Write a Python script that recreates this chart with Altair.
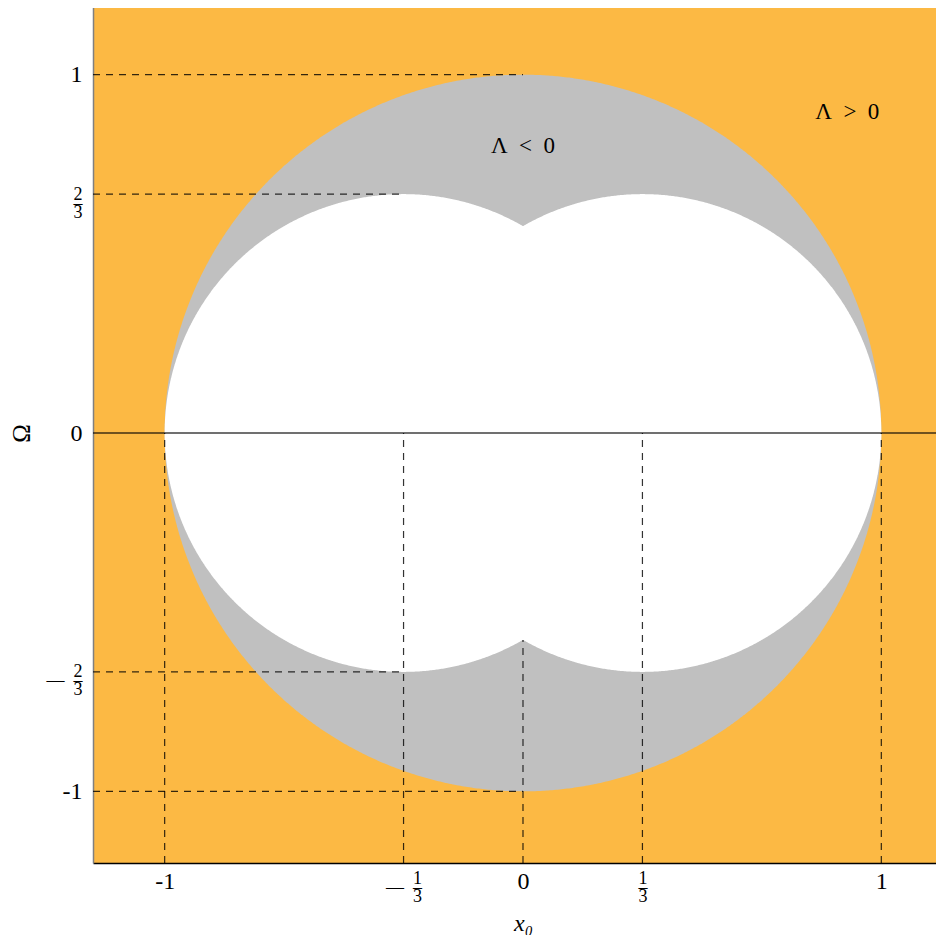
import altair as alt
import numpy as np
import pandas as pd

# ---- data -----------------------------------------------------------------
# regions: circle centres (on Omega = 0), radii and fill colours
circle_cx = [0.0, -1/3, 1/3]
circle_r = [1.0, 2/3, 2/3]
circle_fill = ["#c0c0c0", "#ffffff", "#ffffff"]

# dashed guide lines
h_y = [1, 2/3, -2/3, -1]
h_xend = [0, -1/3, -1/3, 0]
v_x = [-1, -1/3, 0, 1/3, 1]
v_ytop = [0, 0, -np.sqrt(1/3), 0, 0]

# tick labels; stacked fractions are written as [numerator, bar line, denominator]
x_ticks = [-1, -1/3, 0, 1/3, 1]
x_tick_labels = ["-1", ["1", "—\u2002–", "3"], "0", ["1", "–", "3"], "1"]
y_ticks = [-1, -2/3, 0, 2/3, 1]
y_tick_labels = ["-1", ["2", "—\u2002–", "3"], "0", ["2", "–", "3"], "1"]

ann_text = ["Λ\u2002<\u20020", "Λ\u2002>\u20020"]
ann_x = [0.0, 0.905]
ann_y = [0.80, 0.897]

XMIN, XMAX = -1.2, 1.1526
YMIN, YMAX = -1.2, 1.2

ORANGE = "#fcb944"
FONT = "Liberation Serif"
FRAC_SIZE = 18

# ---- helpers --------------------------------------------------------------
def js(l):
    if isinstance(l, list):
        return "[" + ", ".join(f"'{s}'" for s in l) + "]"
    return f"'{l}'"

def label_expr(vals, labs):
    e = ""
    for v, l in zip(vals, labs):
        e += f"abs(datum.value - ({v!r})) < 1e-6 ? {js(l)} : "
    return e + "''"

FRAC = "abs(datum.value) > 0.01 && abs(abs(datum.value) - 1) > 0.01"
NEG_FRAC = "datum.value < -0.01 && datum.value > -0.99"

xscale = alt.Scale(domain=[XMIN, XMAX], nice=False, zero=False)
yscale = alt.Scale(domain=[YMIN, YMAX], nice=False, zero=False)

xaxis = alt.Axis(
    values=x_ticks, labelExpr=label_expr(x_ticks, x_tick_labels),
    labelFontSize={"condition": {"test": FRAC, "value": FRAC_SIZE}, "value": 24},
    labelAlign={"condition": {"test": FRAC, "value": "right"}, "value": "center"},
    labelOffset={"condition": [{"test": NEG_FRAC, "value": 18},
                               {"test": FRAC, "value": 4.5}], "value": 0},
    labelLineHeight=9,
    title="x₀", titleFontStyle="italic", titleX=430, titleY=67,
    titleBaseline="alphabetic", titleAlign="center",
    labelPadding=6, domainColor="black", domainWidth=1.5)
yaxis = alt.Axis(
    values=y_ticks, labelExpr=label_expr(y_ticks, y_tick_labels),
    labelFontSize={"condition": {"test": FRAC, "value": FRAC_SIZE}, "value": 24},
    labelLineHeight=9,
    title="Ω", titleX=-72, titleY=430, titleAngle=-90,
    titleAlign="center", titleBaseline="middle", titleFontSize=25,
    labelPadding=11, domainColor="#808080", domainWidth=1.5)

def X(field="x"):
    return alt.X(f"{field}:Q", scale=xscale, axis=xaxis)

def Y(field="y"):
    return alt.Y(f"{field}:Q", scale=yscale, axis=yaxis)

# circle outlines as areas (upper / lower boundary at each x)
theta = np.linspace(0, np.pi, 600)
layers = []
for cx, r, col in zip(circle_cx, circle_r, circle_fill):
    df = pd.DataFrame({
        "x": cx - r * np.cos(theta),
        "y": r * np.sin(theta),
        "y2": -r * np.sin(theta),
    })
    layers.append(
        alt.Chart(df).mark_area(color=col, opacity=1, orient="vertical").encode(
            x=X(), y=Y(), y2="y2:Q"
        )
    )

# solid line at Omega = 0
zero_line = alt.Chart(pd.DataFrame({"y": [0]})).mark_rule(
    color="black", opacity=0.75, strokeWidth=1.3
).encode(y=Y())

dash = dict(color="black", opacity=0.8, strokeWidth=1.2, strokeDash=[7, 6], clip=True)

h_df = pd.DataFrame({"x": [XMIN] * len(h_y), "x2": h_xend, "y": h_y})
h_lines = alt.Chart(h_df).mark_rule(**dash).encode(x=X(), x2="x2:Q", y=Y())

v_df = pd.DataFrame({"x": v_x, "y": [YMIN] * len(v_x), "y2": v_ytop})
v_lines = alt.Chart(v_df).mark_rule(**dash).encode(x=X(), y=Y(), y2="y2:Q")

ann_df = pd.DataFrame({"x": ann_x, "y": ann_y, "t": ann_text})
ann = alt.Chart(ann_df).mark_text(
    font=FONT, fontSize=23, color="black", baseline="middle", align="center"
).encode(x=X(), y=Y(), text="t:N")

chart = alt.layer(*layers, zero_line, h_lines, v_lines, ann).properties(
    width=843, height=860,
    autosize=alt.AutoSizeParams(type="none"),
    padding={"left": 85, "top": -5, "right": 0, "bottom": 72},
).configure_view(
    fill=ORANGE, stroke=None
).configure_axis(
    grid=False, ticks=False, labelFont=FONT, labelColor="black",
    titleFont=FONT, titleFontSize=24, titleColor="black", titleFontWeight="normal",
    labelOverlap=False, labelFlush=False
)

chart.save("out.html", embed_options={"renderer": "svg", "actions": False})
